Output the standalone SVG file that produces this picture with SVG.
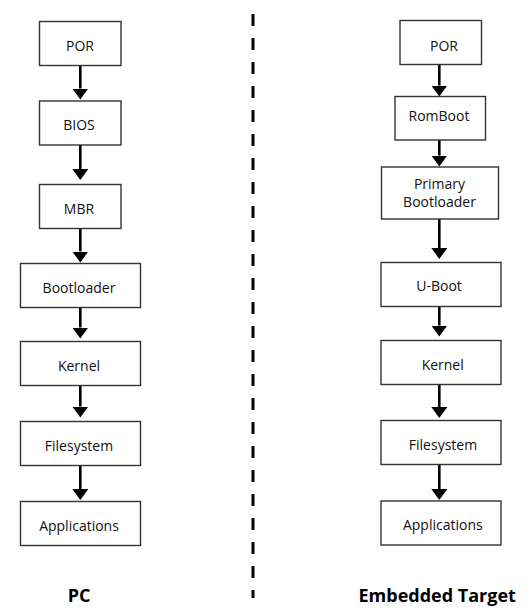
<svg xmlns="http://www.w3.org/2000/svg" width="530" height="615" viewBox="0 0 530 615">
<defs>
<style>
.box rect{fill:#fff;stroke:#333;stroke-width:1.4}
.box text{font-family:"Open Sans","Liberation Sans",sans-serif;font-size:14px;fill:#111;text-anchor:middle}
.title{font-family:"Open Sans","Liberation Sans",sans-serif;font-size:18px;font-weight:bold;fill:#000;text-anchor:middle}
.conn line{stroke:#000;stroke-width:2.6;marker-end:url(#ah)}
</style>
<marker id="ah" markerUnits="userSpaceOnUse" viewBox="0 0 11 16" refX="0" refY="8" markerWidth="11" markerHeight="16" orient="auto">
<path d="M0,0 L11,8 L0,16 Z" fill="#000"/>
</marker>
</defs>
<rect width="530" height="615" fill="#fff"/>
<line id="divider" x1="253" y1="14" x2="253" y2="598" stroke="#000" stroke-width="3" stroke-dasharray="12 12"/>
<g class="conn">
<line x1="80.3" y1="65.5" x2="80.3" y2="88.5"/>
<line x1="80.3" y1="145" x2="80.3" y2="169"/>
<line x1="80.3" y1="228.5" x2="80.3" y2="251.5"/>
<line x1="80.3" y1="307.5" x2="80.3" y2="327.5"/>
<line x1="80.3" y1="385.5" x2="80.3" y2="406.5"/>
<line x1="80.3" y1="465.5" x2="80.3" y2="489"/>
<line x1="439.3" y1="64.5" x2="439.3" y2="85.5"/>
<line x1="439.3" y1="140" x2="439.3" y2="155.5"/>
<line x1="439.3" y1="219" x2="439.3" y2="248"/>
<line x1="439.3" y1="306.5" x2="439.3" y2="325.5"/>
<line x1="439.3" y1="384.5" x2="439.3" y2="407"/>
<line x1="439.3" y1="464.5" x2="439.3" y2="489"/>
</g>
<g id="pc-por" class="box"><rect x="39.5" y="21.5" width="81.5" height="44"/><text x="80" y="50.7">POR</text></g>
<g id="pc-bios" class="box"><rect x="39.5" y="101" width="81.5" height="44"/><text x="79" y="130">BIOS</text></g>
<g id="pc-mbr" class="box"><rect x="39.5" y="184.5" width="81.5" height="44"/><text x="79" y="213.5">MBR</text></g>
<g id="pc-bootloader" class="box"><rect x="20.5" y="263.5" width="120" height="44"/><text x="79" y="292.5">Bootloader</text></g>
<g id="pc-kernel" class="box"><rect x="20.5" y="341.5" width="120" height="44"/><text x="79" y="370.5">Kernel</text></g>
<g id="pc-filesystem" class="box"><rect x="20.5" y="421.5" width="120" height="44"/><text x="79" y="450.5">Filesystem</text></g>
<g id="pc-applications" class="box"><rect x="20.5" y="501.5" width="120" height="44"/><text x="79" y="530.5">Applications</text></g>
<g id="emb-por" class="box"><rect x="400" y="20.5" width="81.5" height="44"/><text x="444" y="50.5">POR</text></g>
<g id="emb-romboot" class="box"><rect x="395" y="96.5" width="90.5" height="43.5"/><text x="439" y="120.7">RomBoot</text></g>
<g id="emb-primary" class="box"><rect x="381.5" y="167" width="117" height="52"/><text x="439.5" y="189.3">Primary</text><text x="439.5" y="206.5">Bootloader</text></g>
<g id="emb-uboot" class="box"><rect x="381" y="262.5" width="120" height="44"/><text x="439" y="291">U-Boot</text></g>
<g id="emb-kernel" class="box"><rect x="381" y="340.5" width="120" height="44"/><text x="442.7" y="370">Kernel</text></g>
<g id="emb-filesystem" class="box"><rect x="381" y="420.5" width="120" height="44"/><text x="443" y="449.5">Filesystem</text></g>
<g id="emb-applications" class="box"><rect x="381" y="501" width="120" height="44"/><text x="442.8" y="530">Applications</text></g>
<text class="title" x="79.2" y="601.5">PC</text>
<text class="title" x="437.2" y="601.5">Embedded Target</text>
</svg>
